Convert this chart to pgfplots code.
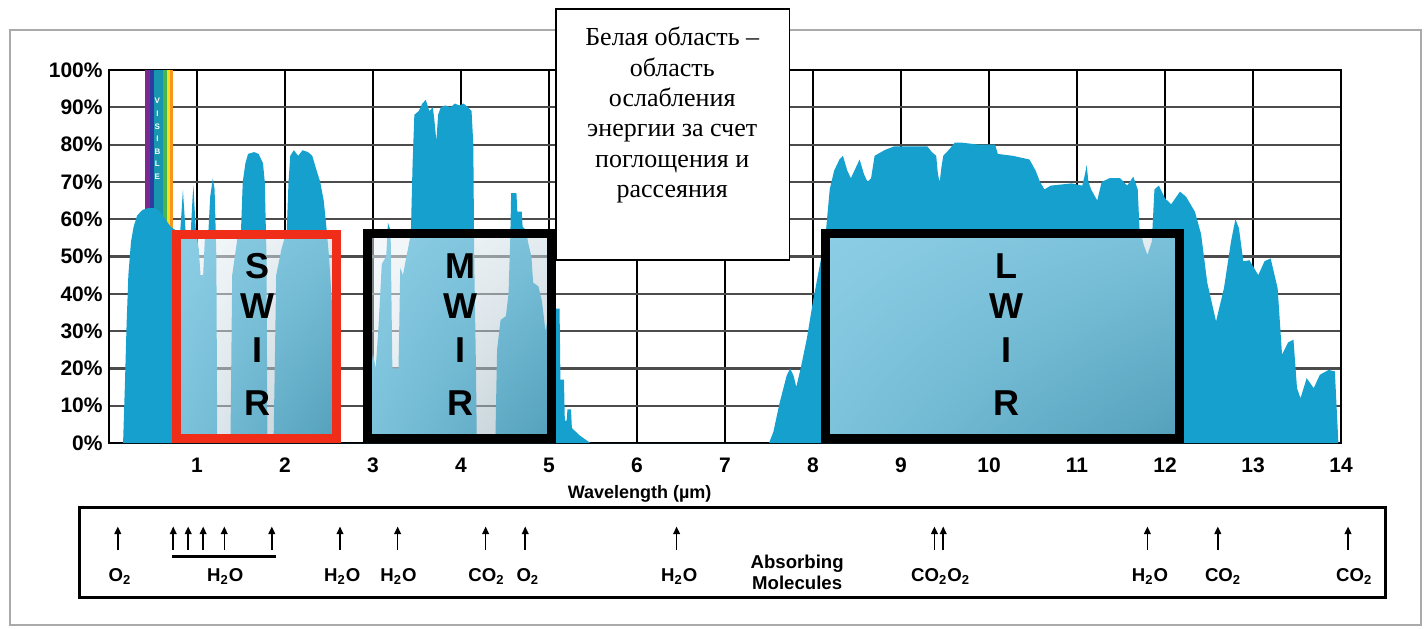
\documentclass[border=0pt]{standalone}
\usepackage{pgfplots}
\pgfplotsset{compat=1.18}
\usepackage{fontspec}
\setmainfont{Liberation Sans}
\newfontfamily\seriffont{Liberation Serif}
\usetikzlibrary{arrows.meta,shadings}
\definecolor{specblue}{RGB}{22,160,206}
\definecolor{boxred}{RGB}{240,45,25}
\definecolor{vpurple}{RGB}{125,40,145}
\definecolor{vblue}{RGB}{45,60,160}
\definecolor{vteal}{RGB}{25,150,175}
\definecolor{vgreen}{RGB}{70,180,80}
\definecolor{vyellow}{RGB}{250,220,30}
\definecolor{vorange}{RGB}{245,150,30}
\definecolor{ovUL}{RGB}{238,244,248}
\definecolor{ovUR}{RGB}{205,220,228}
\definecolor{ovLL}{RGB}{210,224,232}
\definecolor{ovLR}{RGB}{135,160,172}
\definecolor{framegray}{RGB}{170,170,170}
\tikzset{bandletter/.style={font=\bfseries\fontsize{18}{18}\selectfont},
  molarrow/.style={black, line width=0.75pt, -{Triangle[width=3.4pt,length=3.8pt]}}}
\begin{document}
\begin{tikzpicture}
\path[use as bounding box] (0,0) rectangle (713pt,314pt);
\begin{axis}[
  at={(54.5pt,92.5pt)}, anchor=south west,
  scale only axis, width=616pt, height=186.5pt,
  xmin=0, xmax=14, ymin=0, ymax=100,
  xtick={1,2,3,4,5,6,7,8,9,10,11,12,13,14},
  xticklabels={1,2,3,4,5,6,7,8,9,10,11,12,13,14},
  ytick={0,10,20,30,40,50,60,70,80,90,100},
  yticklabels={0\%,10\%,20\%,30\%,40\%,50\%,60\%,70\%,80\%,90\%,100\%},
  major tick length=0pt,
  grid=major,
  x grid style={black, line width=0.6pt},
  y grid style={black!70, line width=1.1pt},
  axis line style={black, line width=0.6pt},
  tick label style={font=\bfseries\fontsize{10.5}{12}\selectfont},
  yticklabel style={xshift=0.3pt},
  xticklabel style={yshift=-4pt},
  clip=false,
]
% outer frame
\draw[framegray, line width=0.6pt] (axis cs:-1.125,110.7) rectangle (axis cs:14.91,-48.8);
% visible band
\fill[vpurple] (axis cs:0.411,50) rectangle (axis cs:0.466,100);
\fill[vblue]   (axis cs:0.466,50) rectangle (axis cs:0.511,100);
\fill[vteal]   (axis cs:0.511,50) rectangle (axis cs:0.614,100);
\fill[vgreen]  (axis cs:0.614,50) rectangle (axis cs:0.659,100);
\fill[vyellow] (axis cs:0.659,50) rectangle (axis cs:0.693,100);
\fill[vorange] (axis cs:0.693,50) rectangle (axis cs:0.727,100);
\node[align=center, text=white, inner sep=0, font=\bfseries\fontsize{4}{6.3}\selectfont] at (axis cs:0.55,81.5) {V\\I\\S\\I\\B\\L\\E};
% transmission spectrum
\addplot[fill=specblue, draw=none] table[row sep=\\] {
x y\\
0.12 0\\ 0.16 0\\ 0.18 15\\ 0.20 32\\ 0.22 45\\ 0.25 54\\ 0.28 58\\ 0.32 61\\ 0.38 62.5\\ 0.45 63\\
0.52 63\\ 0.58 62\\ 0.64 60\\ 0.70 58\\ 0.76 57\\ 0.81 57\\ 0.83 64\\ 0.84 68\\ 0.85 64\\ 0.87 57\\
0.93 57\\ 0.95 66\\ 0.96 69\\ 0.97 64\\ 0.99 56\\ 1.02 52\\ 1.04 45\\ 1.07 45\\ 1.09 55\\ 1.13 57\\
1.15 66\\ 1.18 71\\ 1.20 68\\ 1.22 50\\ 1.23 0\\ 1.38 0\\ 1.40 45\\ 1.46 55\\ 1.50 57\\ 1.52 70\\
1.55 75\\ 1.58 77.5\\ 1.65 78\\ 1.70 77.5\\ 1.75 75\\ 1.77 70\\ 1.79 50\\ 1.80 0\\ 1.87 0\\ 1.90 45\\
1.96 52\\ 2.02 57\\ 2.04 70\\ 2.06 77\\ 2.10 78.5\\ 2.15 77\\ 2.20 78.5\\ 2.26 78\\ 2.31 77\\ 2.36 73\\
2.40 70\\ 2.44 65\\ 2.47 58\\ 2.50 50\\ 2.54 35\\ 2.57 15\\ 2.60 0\\ 2.95 0\\ 2.97 18\\ 3.00 24\\
3.03 20\\ 3.06 30\\ 3.10 48\\ 3.15 50\\ 3.17 59\\ 3.20 57\\ 3.22 20\\ 3.29 20\\ 3.31 47\\ 3.34 45\\
3.38 50\\ 3.43 56\\ 3.45 75\\ 3.47 88\\ 3.52 89\\ 3.56 91\\ 3.60 92\\ 3.64 89\\ 3.68 90\\ 3.70 86\\
3.72 81\\ 3.74 88\\ 3.77 90\\ 3.82 90.5\\ 3.88 90\\ 3.93 91\\ 3.98 90.5\\ 4.03 91\\ 4.08 90\\ 4.12 89\\
4.14 80\\ 4.15 50\\ 4.17 20\\ 4.18 0\\ 4.39 0\\ 4.41 25\\ 4.45 33\\ 4.51 34\\ 4.54 40\\ 4.56 55\\
4.57 67\\ 4.63 67\\ 4.64 62\\ 4.69 62\\ 4.70 58\\ 4.74 57\\ 4.76 54\\ 4.80 50\\ 4.82 43\\ 4.88 42\\
4.92 38\\ 4.96 30\\ 5.00 35\\ 5.05 36\\ 5.12 36\\ 5.13 17\\ 5.17 17\\ 5.18 6\\ 5.20 6\\ 5.21 9\\
5.25 9\\ 5.26 4\\ 5.35 2\\ 5.47 0\\ 7.50 0\\ 7.55 3\\ 7.62 10.7\\ 7.70 18\\ 7.74 20\\ 7.78 18\\
7.81 15\\ 7.86 20\\ 7.93 28\\ 8.00 38\\ 8.08 48\\ 8.14 55\\ 8.19 68\\ 8.24 73\\ 8.30 76\\ 8.34 77\\
8.39 73\\ 8.43 71\\ 8.49 74\\ 8.53 76\\ 8.58 72\\ 8.62 70\\ 8.66 71\\ 8.70 77\\ 8.82 78.6\\ 8.92 79.5\\
9.05 79.5\\ 9.20 79.5\\ 9.30 79.5\\ 9.35 78\\ 9.40 77\\ 9.42 72\\ 9.44 70\\ 9.46 74\\ 9.48 77\\ 9.54 78.5\\
9.61 80.5\\ 9.70 80.5\\ 9.88 80\\ 10.07 80\\ 10.10 77.5\\ 10.27 77\\ 10.46 76\\ 10.53 73\\ 10.58 70\\ 10.63 68\\
10.70 69\\ 10.94 69.6\\ 11.06 69\\ 11.09 72\\ 11.11 74.5\\ 11.13 70\\ 11.16 68\\ 11.23 65\\ 11.28 70\\ 11.37 71\\
11.49 71\\ 11.57 69\\ 11.64 71.4\\ 11.69 68\\ 11.71 57.6\\ 11.76 53\\ 11.80 50.4\\ 11.85 54\\ 11.88 68\\ 11.93 69\\
12.00 65.6\\ 12.07 64\\ 12.17 67.4\\ 12.24 66\\ 12.34 62\\ 12.41 56\\ 12.48 43\\ 12.58 32.6\\ 12.67 41.5\\ 12.75 54\\
12.80 60\\ 12.84 57.6\\ 12.89 48.7\\ 12.96 49\\ 13.06 45\\ 13.13 48.7\\ 13.20 49.5\\ 13.28 41.5\\ 13.33 23.7\\ 13.40 27\\
13.46 27.7\\ 13.50 14.7\\ 13.54 12\\ 13.61 17.4\\ 13.69 14.7\\ 13.76 18.3\\ 13.86 19.6\\ 13.93 19.2\\ 13.96 5\\ 13.97 0\\
};
% band boxes: translucent overlays
\shade[fill opacity=0.55, upper left=ovUL, upper right=ovUR, lower left=ovLL, lower right=ovLR] (axis cs:0.77,1.3) rectangle (axis cs:2.59,56);
\shade[fill opacity=0.55, upper left=ovUL, upper right=ovUR, lower left=ovLL, lower right=ovLR] (axis cs:2.94,1.3) rectangle (axis cs:5.03,56.3);
\shade[fill opacity=0.55, upper left=ovUL, upper right=ovUR, lower left=ovLL, lower right=ovLR] (axis cs:8.14,1.3) rectangle (axis cs:12.17,56.3);
\draw[boxred, line width=4.5pt] (axis cs:0.77,1.3) rectangle (axis cs:2.59,56);
\draw[black, line width=4.5pt] (axis cs:2.94,1.3) rectangle (axis cs:5.03,56.3);
\draw[black, line width=4.5pt] (axis cs:8.14,1.3) rectangle (axis cs:12.17,56.3);
% band letters
\node[bandletter] at (axis cs:1.69,47.5) {S};
\node[bandletter] at (axis cs:1.69,36.7) {W};
\node[bandletter] at (axis cs:1.69,24.9) {I};
\node[bandletter] at (axis cs:1.69,10.7) {R};
\node[bandletter] at (axis cs:3.99,47.5) {M};
\node[bandletter] at (axis cs:3.99,36.7) {W};
\node[bandletter] at (axis cs:3.99,24.9) {I};
\node[bandletter] at (axis cs:3.99,10.7) {R};
\node[bandletter] at (axis cs:10.2,47.5) {L};
\node[bandletter] at (axis cs:10.2,36.7) {W};
\node[bandletter] at (axis cs:10.2,24.9) {I};
\node[bandletter] at (axis cs:10.2,10.7) {R};
% explanatory text box
\filldraw[fill=white, draw=black, line width=0.7pt] (axis cs:5.08,116.4) rectangle (axis cs:7.73,49.1);
\node[anchor=north, align=center, inner sep=0, font=\seriffont\fontsize{13}{15.2}\selectfont] at (axis cs:6.40,111.6)
  {Белая область –\\область\\ослабления\\энергии за счет\\поглощения и\\рассеяния};
% x label
\node[font=\bfseries\fontsize{9}{11}\selectfont] at (axis cs:6.03,-13.6) {Wavelength (µm)};
% absorbing molecules box
\draw[black, line width=1.5pt] (axis cs:-0.33,-17.4) rectangle (axis cs:14.5,-41.3);
\draw[molarrow] (axis cs:0.10,-28.6) -- (axis cs:0.10,-22.4);
\draw[molarrow] (axis cs:0.73,-28.6) -- (axis cs:0.73,-22.4);
\draw[molarrow] (axis cs:0.90,-28.6) -- (axis cs:0.90,-22.4);
\draw[molarrow] (axis cs:1.07,-28.6) -- (axis cs:1.07,-22.4);
\draw[molarrow] (axis cs:1.31,-28.6) -- (axis cs:1.31,-22.4);
\draw[molarrow] (axis cs:1.85,-28.6) -- (axis cs:1.85,-22.4);
\draw[molarrow] (axis cs:2.625,-28.6) -- (axis cs:2.625,-22.4);
\draw[molarrow] (axis cs:3.28,-28.6) -- (axis cs:3.28,-22.4);
\draw[molarrow] (axis cs:4.28,-28.6) -- (axis cs:4.28,-22.4);
\draw[molarrow] (axis cs:4.73,-28.6) -- (axis cs:4.73,-22.4);
\draw[molarrow] (axis cs:6.45,-28.6) -- (axis cs:6.45,-22.4);
\draw[molarrow] (axis cs:9.38,-28.6) -- (axis cs:9.38,-22.4);
\draw[molarrow] (axis cs:9.48,-28.6) -- (axis cs:9.48,-22.4);
\draw[molarrow] (axis cs:11.80,-28.6) -- (axis cs:11.80,-22.4);
\draw[molarrow] (axis cs:12.60,-28.6) -- (axis cs:12.60,-22.4);
\draw[molarrow] (axis cs:14.08,-28.6) -- (axis cs:14.08,-22.4);
\draw[black, line width=1.3pt] (axis cs:0.72,-30.5) -- (axis cs:1.90,-30.5);
\begin{scope}[every node/.style={font=\bfseries\fontsize{9.3}{10.5}\selectfont}]
\node at (axis cs:0.125,-35.8) {O\textsubscript{2}};
\node at (axis cs:1.32,-35.8) {H\textsubscript{2}O};
\node at (axis cs:2.65,-35.8) {H\textsubscript{2}O};
\node at (axis cs:3.29,-35.8) {H\textsubscript{2}O};
\node at (axis cs:4.29,-35.8) {CO\textsubscript{2}};
\node at (axis cs:4.76,-35.8) {O\textsubscript{2}};
\node at (axis cs:6.48,-35.8) {H\textsubscript{2}O};
\node[align=center] at (axis cs:7.82,-34.6) {Absorbing\\Molecules};
\node at (axis cs:9.45,-35.8) {CO\textsubscript{2}O\textsubscript{2}};
\node at (axis cs:11.83,-35.8) {H\textsubscript{2}O};
\node at (axis cs:12.66,-35.8) {CO\textsubscript{2}};
\node at (axis cs:14.15,-35.8) {CO\textsubscript{2}};
\end{scope}
\end{axis}
\end{tikzpicture}
\end{document}
